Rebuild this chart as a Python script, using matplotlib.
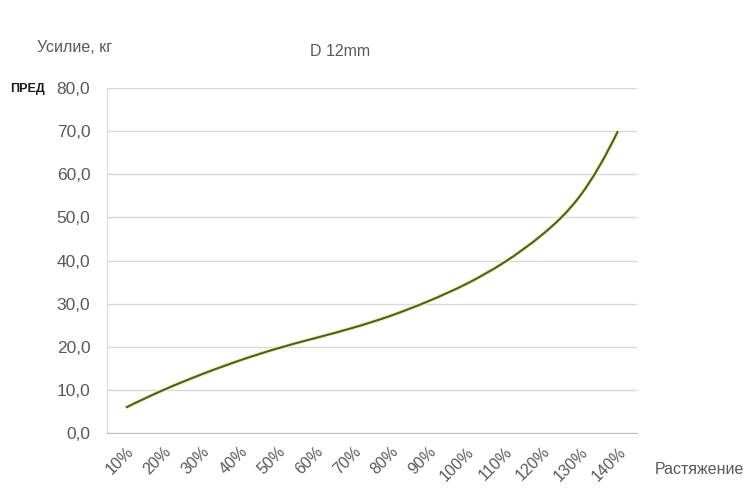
import numpy as np
import matplotlib.pyplot as plt
from matplotlib.path import Path
from matplotlib.patches import PathPatch

# Данные
categories = ["10%", "20%", "30%", "40%", "50%", "60%", "70%",
              "80%", "90%", "100%", "110%", "120%", "130%", "140%"]
force = [5.9, 10.0, 13.6, 16.8, 19.6, 22.0, 24.4,
         27.2, 30.6, 34.6, 39.6, 46.0, 55.0, 70.0]
y_ticks = [0, 10, 20, 30, 40, 50, 60, 70, 80]

txt_color = "#595959"
grid_color = "#d9d9d9"


def smooth_path(y):
    # сглаженная линия: зажатый кубический сплайн -> кривые Безье (шаг 1)
    y = np.asarray(y, dtype=float)
    n = len(y)
    A = np.zeros((n, n))
    b = np.zeros(n)
    A[0, 0] = A[-1, -1] = 1
    b[0] = (-3 * y[0] + 4 * y[1] - y[2]) / 2
    b[-1] = (3 * y[-1] - 4 * y[-2] + y[-3]) / 2
    for i in range(1, n - 1):
        A[i, i - 1], A[i, i], A[i, i + 1] = 1, 4, 1
        b[i] = 3 * (y[i + 1] - y[i - 1])
    m = np.linalg.solve(A, b)
    verts = [(0, y[0])]
    codes = [Path.MOVETO]
    for i in range(n - 1):
        verts += [(i + 1 / 3, y[i] + m[i] / 3),
                  (i + 2 / 3, y[i + 1] - m[i + 1] / 3),
                  (i + 1, y[i + 1])]
        codes += [Path.CURVE4] * 3
    return Path(verts, codes)


plt.rcParams['font.family'] = ['Liberation Sans', 'DejaVu Sans']

fig = plt.figure(figsize=(7.51, 4.99), dpi=100)
ax = fig.add_axes([0.1425, 0.1323, 0.7055, 0.6913])

x = np.arange(len(categories))
path = smooth_path(force)
ax.add_patch(PathPatch(path, facecolor="none", edgecolor="#eef5c0", lw=3.0))
ax.add_patch(PathPatch(path, facecolor="none", edgecolor="#4b601c", lw=1.5))

ax.set_xlim(-0.5, len(categories) - 0.5)
ax.set_ylim(0, 80)
ax.set_yticks(y_ticks)
ax.set_yticklabels([f"{v:.1f}".replace(".", ",") for v in y_ticks],
                   fontsize=12.5, color=txt_color)
ax.set_xticks(x)
ax.set_xticklabels(categories, rotation=45, ha="right", rotation_mode="anchor",
                   fontsize=11.5, color=txt_color)

ax.grid(axis="y", color=grid_color, lw=1)
ax.set_axisbelow(True)
for s in ["top", "right"]:
    ax.spines[s].set_visible(False)
ax.spines["left"].set_color(grid_color)
ax.spines["bottom"].set_color("#bfbfbf")
ax.tick_params(length=0, pad=12)
ax.tick_params(axis="x", pad=8)

fig.text(37 / 751, 1 - 48 / 499, "Усилие, кг", fontsize=11.5, color=txt_color,
         va="center", ha="left")
fig.text(340 / 751, 1 - 51 / 499, "D 12mm", fontsize=11.5, color=txt_color,
         va="center", ha="center")
fig.text(10 / 751, 1 - 89 / 499, "ПРЕД", fontsize=9, fontweight="bold",
         color="#1a1a1a", va="center", ha="left")
fig.text(655 / 751, 1 - 470 / 499, "Растяжение", fontsize=11.5, color=txt_color,
         va="center", ha="left")

fig.savefig("out.png", dpi=100)
